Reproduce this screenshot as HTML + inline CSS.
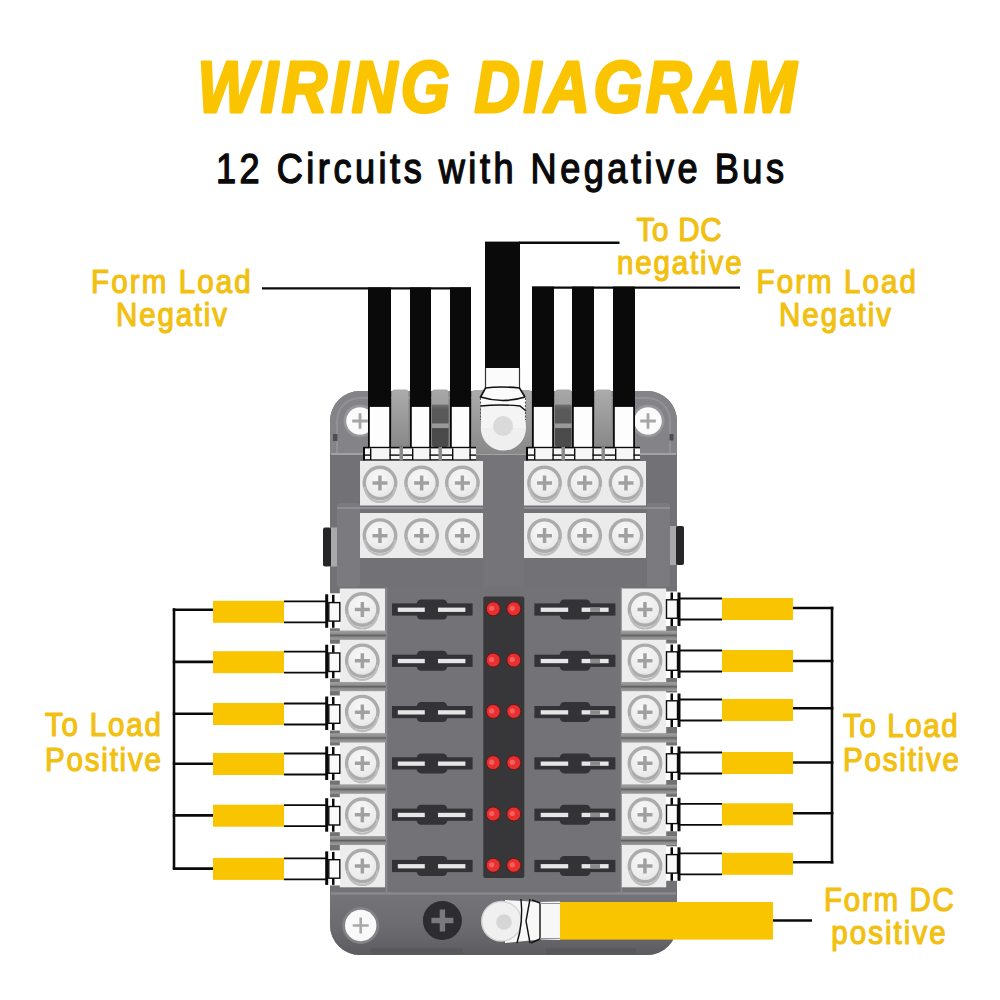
<!DOCTYPE html><html><head><meta charset="utf-8"><style>html,body{margin:0;padding:0;background:#fff;width:1000px;height:1000px;overflow:hidden}svg{display:block}text{font-family:"Liberation Sans",sans-serif}</style></head><body>
<svg width="1000" height="1000" viewBox="0 0 1000 1000">
<defs>
<radialGradient id="scr" cx="0.45" cy="0.35" r="0.7"><stop offset="0" stop-color="#f8f8f8"/><stop offset="0.7" stop-color="#ececec"/><stop offset="1" stop-color="#dedede"/></radialGradient>
<linearGradient id="colL" x1="0" y1="0" x2="0" y2="1"><stop offset="0" stop-color="#acacac"/><stop offset="0.5" stop-color="#9a9a9a"/><stop offset="1" stop-color="#888888"/></linearGradient>
<linearGradient id="colD" x1="0" y1="0" x2="0" y2="1"><stop offset="0" stop-color="#a8a8a8"/><stop offset="0.25" stop-color="#a0a0a0"/><stop offset="0.28" stop-color="#6a6a6a"/><stop offset="0.35" stop-color="#5a5a5a"/><stop offset="0.58" stop-color="#585858"/><stop offset="0.6" stop-color="#9a9a9a"/><stop offset="0.66" stop-color="#9a9a9a"/><stop offset="0.68" stop-color="#4a4a4a"/><stop offset="1" stop-color="#4c4c4c"/></linearGradient>
<linearGradient id="band" x1="0" y1="0" x2="0" y2="1"><stop offset="0" stop-color="#a2a2a2"/><stop offset="0.35" stop-color="#8c8c8c"/><stop offset="0.5" stop-color="#5f5f5f"/><stop offset="0.7" stop-color="#8a8a8a"/><stop offset="1" stop-color="#9c9c9c"/></linearGradient>
<linearGradient id="bot" x1="0" y1="0" x2="0" y2="1"><stop offset="0" stop-color="#747377"/><stop offset="0.55" stop-color="#6c6b6f"/><stop offset="1" stop-color="#5c5b5f"/></linearGradient>
</defs>
<rect x="0.0" y="0.0" width="1000.0" height="1000.0" fill="#ffffff" />
<text transform="translate(197.6,111.5) scale(0.87,1)" x="0" y="0" font-size="72.2" font-weight="bold" font-style="italic" fill="#FBC400" stroke="#FBC400" stroke-width="3.0" stroke-linejoin="round" textLength="688.3" lengthAdjust="spacing">WIRING DIAGRAM</text>
<text transform="translate(216.0,182.5) scale(0.86,1)" x="0" y="0" font-size="42" font-weight="normal" font-style="normal" fill="#0a0a0a" stroke="#0a0a0a" stroke-width="1.4" stroke-linejoin="round" textLength="660.5" lengthAdjust="spacing">12 Circuits with Negative Bus</text>
<text transform="translate(91.1,293.2) scale(0.9,1)" x="0" y="0" font-size="32.8" font-weight="normal" font-style="normal" fill="#F2C010" stroke="#F2C010" stroke-width="1.25" stroke-linejoin="round" textLength="177.4" lengthAdjust="spacing">Form Load</text>
<text transform="translate(116.1,326.2) scale(0.9,1)" x="0" y="0" font-size="32.8" font-weight="normal" font-style="normal" fill="#F2C010" stroke="#F2C010" stroke-width="1.25" stroke-linejoin="round" textLength="123.2" lengthAdjust="spacing">Negativ</text>
<text transform="translate(636.5,240.8) scale(0.9,1)" x="0" y="0" font-size="32.8" font-weight="normal" font-style="normal" fill="#F2C010" stroke="#F2C010" stroke-width="1.25" stroke-linejoin="round" textLength="94.5" lengthAdjust="spacing">To DC</text>
<text transform="translate(617.0,274.2) scale(0.9,1)" x="0" y="0" font-size="32.8" font-weight="normal" font-style="normal" fill="#F2C010" stroke="#F2C010" stroke-width="1.25" stroke-linejoin="round" textLength="138.4" lengthAdjust="spacing">negative</text>
<text transform="translate(756.6,293.2) scale(0.9,1)" x="0" y="0" font-size="32.8" font-weight="normal" font-style="normal" fill="#F2C010" stroke="#F2C010" stroke-width="1.25" stroke-linejoin="round" textLength="176.9" lengthAdjust="spacing">Form Load</text>
<text transform="translate(779.1,326.2) scale(0.9,1)" x="0" y="0" font-size="32.8" font-weight="normal" font-style="normal" fill="#F2C010" stroke="#F2C010" stroke-width="1.25" stroke-linejoin="round" textLength="124.3" lengthAdjust="spacing">Negativ</text>
<text transform="translate(45.0,736.4) scale(0.9,1)" x="0" y="0" font-size="32.8" font-weight="normal" font-style="normal" fill="#F2C010" stroke="#F2C010" stroke-width="1.25" stroke-linejoin="round" textLength="128.7" lengthAdjust="spacing">To Load</text>
<text transform="translate(45.1,771.1) scale(0.9,1)" x="0" y="0" font-size="32.8" font-weight="normal" font-style="normal" fill="#F2C010" stroke="#F2C010" stroke-width="1.25" stroke-linejoin="round" textLength="128.7" lengthAdjust="spacing">Positive</text>
<text transform="translate(843.1,736.8) scale(0.9,1)" x="0" y="0" font-size="32.8" font-weight="normal" font-style="normal" fill="#F2C010" stroke="#F2C010" stroke-width="1.25" stroke-linejoin="round" textLength="127.4" lengthAdjust="spacing">To Load</text>
<text transform="translate(843.1,771.0) scale(0.9,1)" x="0" y="0" font-size="32.8" font-weight="normal" font-style="normal" fill="#F2C010" stroke="#F2C010" stroke-width="1.25" stroke-linejoin="round" textLength="128.7" lengthAdjust="spacing">Positive</text>
<text transform="translate(824.1,910.8) scale(0.9,1)" x="0" y="0" font-size="32.8" font-weight="normal" font-style="normal" fill="#F2C010" stroke="#F2C010" stroke-width="1.25" stroke-linejoin="round" textLength="144.2" lengthAdjust="spacing">Form DC</text>
<text transform="translate(831.3,943.8) scale(0.9,1)" x="0" y="0" font-size="32.8" font-weight="normal" font-style="normal" fill="#F2C010" stroke="#F2C010" stroke-width="1.25" stroke-linejoin="round" textLength="127.0" lengthAdjust="spacing">positive</text>
<rect x="330" y="391" width="347" height="564" rx="30" ry="30" fill="#727175"/>
<path d="M330 454 V421 A30 30 0 0 1 360 391 H647 A30 30 0 0 1 677 421 V454 Z" fill="#848387"/>
<path d="M337 454 V421 A23 23 0 0 1 360 398 H647 A23 23 0 0 1 670 421 V454" fill="none" stroke="#929195" stroke-width="2"/>
<rect x="337" y="503" width="23" height="84" rx="3" fill="#7b7a7e"/>
<rect x="647" y="503" width="23" height="84" rx="3" fill="#7b7a7e"/>
<line x1="331.0" y1="454.0" x2="676.0" y2="454.0" stroke="#a2a2a2" stroke-width="2.2"/>
<line x1="337.0" y1="508.0" x2="670.0" y2="508.0" stroke="#8f8e92" stroke-width="2"/>
<rect x="386.0" y="587.0" width="236.0" height="306.0" fill="#737276" />
<line x1="386.5" y1="587.0" x2="386.5" y2="893.0" stroke="#8a898c" stroke-width="1.5"/>
<line x1="621.5" y1="587.0" x2="621.5" y2="893.0" stroke="#8a898c" stroke-width="1.5"/>
<line x1="331.0" y1="893.5" x2="676.0" y2="893.5" stroke="#8a898d" stroke-width="2.4"/>
<path d="M330 895 H677 V925 A30 30 0 0 1 647 955 H360 A30 30 0 0 1 330 925 Z" fill="url(#bot)"/>
<rect x="371.0" y="948.5" width="92.0" height="5.0" fill="#58575b" />
<rect x="546.0" y="948.5" width="90.0" height="5.0" fill="#58575b" />
<rect x="392" y="389.5" width="16.5" height="57.5" rx="3" fill="url(#colL)"/>
<rect x="432" y="389.5" width="16.5" height="57.5" rx="3" fill="url(#colD)"/>
<rect x="555" y="389.5" width="16.5" height="57.5" rx="3" fill="url(#colD)"/>
<rect x="595" y="389.5" width="16.5" height="57.5" rx="3" fill="url(#colL)"/>
<rect x="472" y="390" width="59.5" height="64" rx="3" fill="url(#colL)"/>
<rect x="483.0" y="455.0" width="41.0" height="132.0" fill="#757478" />
<rect x="333.0" y="434.0" width="4.5" height="7.0" fill="#4e4d51" />
<rect x="669.5" y="434.0" width="4.0" height="6.5" fill="#4e4d51" />
<circle cx="360.0" cy="421.0" r="16.5" fill="#979699" />
<circle cx="360.0" cy="421.0" r="13.8" fill="#fbfbfb" />
<path d="M352.2 419.6h15.6v2.8h-15.6zM358.6 413.2h2.8v15.6h-2.8z" fill="#a6a6a6"/>
<circle cx="648.0" cy="421.0" r="16.5" fill="#979699" />
<circle cx="648.0" cy="421.0" r="13.8" fill="#fbfbfb" />
<path d="M640.2 419.6h15.6v2.8h-15.6zM646.6 413.2h2.8v15.6h-2.8z" fill="#a6a6a6"/>
<rect x="323" y="527.5" width="8" height="39" rx="2" fill="#262628"/>
<rect x="331.0" y="527.5" width="6.0" height="39.0" fill="#a9a9ab" />
<rect x="676" y="526" width="8" height="39" rx="2" fill="#262628"/>
<rect x="670.0" y="526.0" width="6.0" height="39.0" fill="#a9a9ab" />
<rect x="360.0" y="461.0" width="123.0" height="44.5" fill="#ebebeb" />
<circle cx="380.0" cy="483.0" r="15.7" fill="url(#scr)" stroke="#ababab" stroke-width="3.4"/>
<path d="M365.0 487.0 A15.0 15.0 0 0 0 395.0 487.0" fill="none" stroke="#bdbdbd" stroke-width="2.2"/>
<path d="M372.5 481.2h15.0v3.5h-15.0zM378.2 475.5h3.5v15.0h-3.5z" fill="#a0a0a0"/>
<circle cx="421.6" cy="483.0" r="15.7" fill="url(#scr)" stroke="#ababab" stroke-width="3.4"/>
<path d="M406.6 487.0 A15.0 15.0 0 0 0 436.6 487.0" fill="none" stroke="#bdbdbd" stroke-width="2.2"/>
<path d="M414.1 481.2h15.0v3.5h-15.0zM419.9 475.5h3.5v15.0h-3.5z" fill="#a0a0a0"/>
<circle cx="462.4" cy="483.0" r="15.7" fill="url(#scr)" stroke="#ababab" stroke-width="3.4"/>
<path d="M447.4 487.0 A15.0 15.0 0 0 0 477.4 487.0" fill="none" stroke="#bdbdbd" stroke-width="2.2"/>
<path d="M454.9 481.2h15.0v3.5h-15.0zM460.6 475.5h3.5v15.0h-3.5z" fill="#a0a0a0"/>
<rect x="360.0" y="513.0" width="123.0" height="45.0" fill="#ebebeb" />
<circle cx="380.0" cy="535.6" r="15.7" fill="url(#scr)" stroke="#ababab" stroke-width="3.4"/>
<path d="M365.0 539.6 A15.0 15.0 0 0 0 395.0 539.6" fill="none" stroke="#bdbdbd" stroke-width="2.2"/>
<path d="M372.5 533.9h15.0v3.5h-15.0zM378.2 528.1h3.5v15.0h-3.5z" fill="#a0a0a0"/>
<circle cx="421.6" cy="535.6" r="15.7" fill="url(#scr)" stroke="#ababab" stroke-width="3.4"/>
<path d="M406.6 539.6 A15.0 15.0 0 0 0 436.6 539.6" fill="none" stroke="#bdbdbd" stroke-width="2.2"/>
<path d="M414.1 533.9h15.0v3.5h-15.0zM419.9 528.1h3.5v15.0h-3.5z" fill="#a0a0a0"/>
<circle cx="462.4" cy="535.6" r="15.7" fill="url(#scr)" stroke="#ababab" stroke-width="3.4"/>
<path d="M447.4 539.6 A15.0 15.0 0 0 0 477.4 539.6" fill="none" stroke="#bdbdbd" stroke-width="2.2"/>
<path d="M454.9 533.9h15.0v3.5h-15.0zM460.6 528.1h3.5v15.0h-3.5z" fill="#a0a0a0"/>
<rect x="524.0" y="461.0" width="122.0" height="44.5" fill="#ebebeb" />
<circle cx="544.5" cy="483.0" r="15.7" fill="url(#scr)" stroke="#ababab" stroke-width="3.4"/>
<path d="M529.5 487.0 A15.0 15.0 0 0 0 559.5 487.0" fill="none" stroke="#bdbdbd" stroke-width="2.2"/>
<path d="M537.0 481.2h15.0v3.5h-15.0zM542.8 475.5h3.5v15.0h-3.5z" fill="#a0a0a0"/>
<circle cx="584.7" cy="483.0" r="15.7" fill="url(#scr)" stroke="#ababab" stroke-width="3.4"/>
<path d="M569.7 487.0 A15.0 15.0 0 0 0 599.7 487.0" fill="none" stroke="#bdbdbd" stroke-width="2.2"/>
<path d="M577.2 481.2h15.0v3.5h-15.0zM583.0 475.5h3.5v15.0h-3.5z" fill="#a0a0a0"/>
<circle cx="626.0" cy="483.0" r="15.7" fill="url(#scr)" stroke="#ababab" stroke-width="3.4"/>
<path d="M611.0 487.0 A15.0 15.0 0 0 0 641.0 487.0" fill="none" stroke="#bdbdbd" stroke-width="2.2"/>
<path d="M618.5 481.2h15.0v3.5h-15.0zM624.2 475.5h3.5v15.0h-3.5z" fill="#a0a0a0"/>
<rect x="524.0" y="513.0" width="122.0" height="45.0" fill="#ebebeb" />
<circle cx="544.5" cy="535.6" r="15.7" fill="url(#scr)" stroke="#ababab" stroke-width="3.4"/>
<path d="M529.5 539.6 A15.0 15.0 0 0 0 559.5 539.6" fill="none" stroke="#bdbdbd" stroke-width="2.2"/>
<path d="M537.0 533.9h15.0v3.5h-15.0zM542.8 528.1h3.5v15.0h-3.5z" fill="#a0a0a0"/>
<circle cx="584.7" cy="535.6" r="15.7" fill="url(#scr)" stroke="#ababab" stroke-width="3.4"/>
<path d="M569.7 539.6 A15.0 15.0 0 0 0 599.7 539.6" fill="none" stroke="#bdbdbd" stroke-width="2.2"/>
<path d="M577.2 533.9h15.0v3.5h-15.0zM583.0 528.1h3.5v15.0h-3.5z" fill="#a0a0a0"/>
<circle cx="626.0" cy="535.6" r="15.7" fill="url(#scr)" stroke="#ababab" stroke-width="3.4"/>
<path d="M611.0 539.6 A15.0 15.0 0 0 0 641.0 539.6" fill="none" stroke="#bdbdbd" stroke-width="2.2"/>
<path d="M618.5 533.9h15.0v3.5h-15.0zM624.2 528.1h3.5v15.0h-3.5z" fill="#a0a0a0"/>
<rect x="368.0" y="287.4" width="23.0" height="118.6" fill="#0a0a0a" />
<rect x="368.9" y="406.0" width="21.2" height="42.0" fill="#fdfdfd" stroke="#0a0a0a" stroke-width="1.8"/>
<rect x="410.0" y="287.4" width="21.0" height="118.6" fill="#0a0a0a" />
<rect x="410.9" y="406.0" width="19.2" height="42.0" fill="#fdfdfd" stroke="#0a0a0a" stroke-width="1.8"/>
<rect x="450.0" y="287.4" width="21.0" height="118.6" fill="#0a0a0a" />
<rect x="450.9" y="406.0" width="19.2" height="42.0" fill="#fdfdfd" stroke="#0a0a0a" stroke-width="1.8"/>
<rect x="532.0" y="286.6" width="22.0" height="119.4" fill="#0a0a0a" />
<rect x="532.9" y="406.0" width="20.2" height="42.0" fill="#fdfdfd" stroke="#0a0a0a" stroke-width="1.8"/>
<rect x="572.0" y="286.6" width="22.0" height="119.4" fill="#0a0a0a" />
<rect x="572.9" y="406.0" width="20.2" height="42.0" fill="#fdfdfd" stroke="#0a0a0a" stroke-width="1.8"/>
<rect x="613.0" y="286.6" width="22.0" height="119.4" fill="#0a0a0a" />
<rect x="613.9" y="406.0" width="20.2" height="42.0" fill="#fdfdfd" stroke="#0a0a0a" stroke-width="1.8"/>
<rect x="364.0" y="447.0" width="112.0" height="13.5" fill="#f7f7f7" />
<rect x="364.0" y="446.8" width="112.0" height="1.6" fill="#0a0a0a" />
<rect x="364.0" y="454.4" width="112.0" height="1.4" fill="#0a0a0a" />
<rect x="364.0" y="459.2" width="112.0" height="1.3" fill="#0a0a0a" />
<rect x="371.0" y="448.4" width="18.5" height="10.8" fill="#f7f7f7" />
<rect x="370.0" y="448.4" width="1.4" height="11.6" fill="#0a0a0a" />
<rect x="389.4" y="448.4" width="1.4" height="11.6" fill="#0a0a0a" />
<rect x="413.0" y="448.4" width="16.5" height="10.8" fill="#f7f7f7" />
<rect x="412.0" y="448.4" width="1.4" height="11.6" fill="#0a0a0a" />
<rect x="429.4" y="448.4" width="1.4" height="11.6" fill="#0a0a0a" />
<rect x="453.0" y="448.4" width="16.5" height="10.8" fill="#f7f7f7" />
<rect x="452.0" y="448.4" width="1.4" height="11.6" fill="#0a0a0a" />
<rect x="469.4" y="448.4" width="1.4" height="11.6" fill="#0a0a0a" />
<rect x="399.5" y="446.8" width="3.5" height="13.7" fill="#8b8b8b" />
<rect x="438.5" y="446.8" width="3.5" height="13.7" fill="#8b8b8b" />
<rect x="363.0" y="447.0" width="2.0" height="13.5" fill="#0a0a0a" />
<rect x="527.0" y="447.0" width="113.0" height="13.5" fill="#f7f7f7" />
<rect x="527.0" y="446.8" width="113.0" height="1.6" fill="#0a0a0a" />
<rect x="527.0" y="454.4" width="113.0" height="1.4" fill="#0a0a0a" />
<rect x="527.0" y="459.2" width="113.0" height="1.3" fill="#0a0a0a" />
<rect x="535.0" y="448.4" width="17.5" height="10.8" fill="#f7f7f7" />
<rect x="534.0" y="448.4" width="1.4" height="11.6" fill="#0a0a0a" />
<rect x="552.4" y="448.4" width="1.4" height="11.6" fill="#0a0a0a" />
<rect x="575.0" y="448.4" width="17.5" height="10.8" fill="#f7f7f7" />
<rect x="574.0" y="448.4" width="1.4" height="11.6" fill="#0a0a0a" />
<rect x="592.4" y="448.4" width="1.4" height="11.6" fill="#0a0a0a" />
<rect x="616.0" y="448.4" width="17.5" height="10.8" fill="#f7f7f7" />
<rect x="615.0" y="448.4" width="1.4" height="11.6" fill="#0a0a0a" />
<rect x="633.4" y="448.4" width="1.4" height="11.6" fill="#0a0a0a" />
<rect x="561.5" y="446.8" width="3.5" height="13.7" fill="#8b8b8b" />
<rect x="601.5" y="446.8" width="3.5" height="13.7" fill="#8b8b8b" />
<rect x="526.0" y="447.0" width="2.0" height="13.5" fill="#0a0a0a" />
<rect x="485.0" y="241.6" width="35.0" height="126.4" fill="#0a0a0a" />
<circle cx="503.4" cy="428.0" r="22.6" fill="#efefef" />
<rect x="481.0" y="398.0" width="44.5" height="30.0" fill="#f4f4f4" />
<circle cx="503.0" cy="426.0" r="10.0" fill="#dadada" />
<path d="M486 368 L519.5 368 L520 388 L526 400 L525 405 L481 406 L480 400 L485.5 388 Z" fill="#fbfbfb"/>
<path d="M485.5 368 V388 M519.5 368 V388" stroke="#333" stroke-width="1.2" fill="none"/>
<path d="M485.5 388 Q500 386 519.5 388 L525 397 M485.5 388 L480.5 397 Q503 404 525 397" stroke="#111" stroke-width="1.6" fill="none"/>
<path d="M480.5 406 Q500 404 520 406 L526 411" stroke="#111" stroke-width="1.4" fill="none"/>
<path d="M480.5 398 V420 M525.5 398 V420" stroke="#555" stroke-width="1" fill="none" stroke-dasharray="2 1.5"/>
<line x1="262.0" y1="288.4" x2="471.0" y2="288.4" stroke="#0a0a0a" stroke-width="2.4"/>
<line x1="519.0" y1="242.8" x2="619.5" y2="242.8" stroke="#0a0a0a" stroke-width="2.5"/>
<line x1="532.0" y1="287.6" x2="740.0" y2="287.6" stroke="#0a0a0a" stroke-width="2.4"/>
<rect x="339.8" y="588.5" width="45.3" height="42.3" fill="#ededed" />
<circle cx="362.3" cy="609.5" r="15.7" fill="url(#scr)" stroke="#ababab" stroke-width="3.4"/>
<path d="M347.3 613.5 A15.0 15.0 0 0 0 377.3 613.5" fill="none" stroke="#bdbdbd" stroke-width="2.2"/>
<path d="M354.8 607.8h15.0v3.5h-15.0zM360.6 602.0h3.5v15.0h-3.5z" fill="#a0a0a0"/>
<rect x="621.8" y="588.5" width="44.4" height="42.3" fill="#ededed" />
<circle cx="645.0" cy="609.5" r="15.7" fill="url(#scr)" stroke="#ababab" stroke-width="3.4"/>
<path d="M630.0 613.5 A15.0 15.0 0 0 0 660.0 613.5" fill="none" stroke="#bdbdbd" stroke-width="2.2"/>
<path d="M637.5 607.8h15.0v3.5h-15.0zM643.2 602.0h3.5v15.0h-3.5z" fill="#a0a0a0"/>
<rect x="330.0" y="630.8" width="56.0" height="9.0" fill="url(#band)" />
<rect x="621.0" y="630.8" width="56.0" height="9.0" fill="url(#band)" />
<rect x="392.0" y="603.4" width="80.6" height="12.2" fill="#333236" />
<rect x="416.7" y="599.5" width="30.6" height="20" rx="4.5" fill="#333236"/>
<rect x="397.8" y="607.6" width="27.0" height="4.3" fill="#e6e6e6" />
<rect x="438.0" y="607.6" width="27.4" height="4.3" fill="#e6e6e6" />
<rect x="534.4" y="603.4" width="81.0" height="12.2" fill="#333236" />
<rect x="559.7" y="599.5" width="30.8" height="20" rx="4.5" fill="#333236"/>
<rect x="540.7" y="607.6" width="27.5" height="4.3" fill="#e6e6e6" />
<rect x="581.6" y="607.6" width="27.0" height="4.3" fill="#e6e6e6" />
<rect x="590.2" y="607.6" width="9.8" height="4.3" fill="#8a8a8a" />
<rect x="339.8" y="639.8" width="45.3" height="42.3" fill="#ededed" />
<circle cx="362.3" cy="660.8" r="15.7" fill="url(#scr)" stroke="#ababab" stroke-width="3.4"/>
<path d="M347.3 664.8 A15.0 15.0 0 0 0 377.3 664.8" fill="none" stroke="#bdbdbd" stroke-width="2.2"/>
<path d="M354.8 659.0h15.0v3.5h-15.0zM360.6 653.3h3.5v15.0h-3.5z" fill="#a0a0a0"/>
<rect x="621.8" y="639.8" width="44.4" height="42.3" fill="#ededed" />
<circle cx="645.0" cy="660.8" r="15.7" fill="url(#scr)" stroke="#ababab" stroke-width="3.4"/>
<path d="M630.0 664.8 A15.0 15.0 0 0 0 660.0 664.8" fill="none" stroke="#bdbdbd" stroke-width="2.2"/>
<path d="M637.5 659.0h15.0v3.5h-15.0zM643.2 653.3h3.5v15.0h-3.5z" fill="#a0a0a0"/>
<rect x="330.0" y="682.1" width="56.0" height="9.0" fill="url(#band)" />
<rect x="621.0" y="682.1" width="56.0" height="9.0" fill="url(#band)" />
<rect x="392.0" y="654.7" width="80.6" height="12.2" fill="#333236" />
<rect x="416.7" y="650.8" width="30.6" height="20" rx="4.5" fill="#333236"/>
<rect x="397.8" y="658.9" width="27.0" height="4.3" fill="#e6e6e6" />
<rect x="438.0" y="658.9" width="27.4" height="4.3" fill="#e6e6e6" />
<rect x="534.4" y="654.7" width="81.0" height="12.2" fill="#333236" />
<rect x="559.7" y="650.8" width="30.8" height="20" rx="4.5" fill="#333236"/>
<rect x="540.7" y="658.9" width="27.5" height="4.3" fill="#e6e6e6" />
<rect x="581.6" y="658.9" width="27.0" height="4.3" fill="#e6e6e6" />
<rect x="590.2" y="658.9" width="9.8" height="4.3" fill="#8a8a8a" />
<rect x="339.8" y="691.1" width="45.3" height="42.3" fill="#ededed" />
<circle cx="362.3" cy="712.1" r="15.7" fill="url(#scr)" stroke="#ababab" stroke-width="3.4"/>
<path d="M347.3 716.1 A15.0 15.0 0 0 0 377.3 716.1" fill="none" stroke="#bdbdbd" stroke-width="2.2"/>
<path d="M354.8 710.4h15.0v3.5h-15.0zM360.6 704.6h3.5v15.0h-3.5z" fill="#a0a0a0"/>
<rect x="621.8" y="691.1" width="44.4" height="42.3" fill="#ededed" />
<circle cx="645.0" cy="712.1" r="15.7" fill="url(#scr)" stroke="#ababab" stroke-width="3.4"/>
<path d="M630.0 716.1 A15.0 15.0 0 0 0 660.0 716.1" fill="none" stroke="#bdbdbd" stroke-width="2.2"/>
<path d="M637.5 710.4h15.0v3.5h-15.0zM643.2 704.6h3.5v15.0h-3.5z" fill="#a0a0a0"/>
<rect x="330.0" y="733.4" width="56.0" height="9.0" fill="url(#band)" />
<rect x="621.0" y="733.4" width="56.0" height="9.0" fill="url(#band)" />
<rect x="392.0" y="706.0" width="80.6" height="12.2" fill="#333236" />
<rect x="416.7" y="702.1" width="30.6" height="20" rx="4.5" fill="#333236"/>
<rect x="397.8" y="710.2" width="27.0" height="4.3" fill="#e6e6e6" />
<rect x="438.0" y="710.2" width="27.4" height="4.3" fill="#e6e6e6" />
<rect x="534.4" y="706.0" width="81.0" height="12.2" fill="#333236" />
<rect x="559.7" y="702.1" width="30.8" height="20" rx="4.5" fill="#333236"/>
<rect x="540.7" y="710.2" width="27.5" height="4.3" fill="#e6e6e6" />
<rect x="581.6" y="710.2" width="27.0" height="4.3" fill="#e6e6e6" />
<rect x="590.2" y="710.2" width="9.8" height="4.3" fill="#8a8a8a" />
<rect x="339.8" y="742.4" width="45.3" height="42.3" fill="#ededed" />
<circle cx="362.3" cy="763.4" r="15.7" fill="url(#scr)" stroke="#ababab" stroke-width="3.4"/>
<path d="M347.3 767.4 A15.0 15.0 0 0 0 377.3 767.4" fill="none" stroke="#bdbdbd" stroke-width="2.2"/>
<path d="M354.8 761.6h15.0v3.5h-15.0zM360.6 755.9h3.5v15.0h-3.5z" fill="#a0a0a0"/>
<rect x="621.8" y="742.4" width="44.4" height="42.3" fill="#ededed" />
<circle cx="645.0" cy="763.4" r="15.7" fill="url(#scr)" stroke="#ababab" stroke-width="3.4"/>
<path d="M630.0 767.4 A15.0 15.0 0 0 0 660.0 767.4" fill="none" stroke="#bdbdbd" stroke-width="2.2"/>
<path d="M637.5 761.6h15.0v3.5h-15.0zM643.2 755.9h3.5v15.0h-3.5z" fill="#a0a0a0"/>
<rect x="330.0" y="784.7" width="56.0" height="9.0" fill="url(#band)" />
<rect x="621.0" y="784.7" width="56.0" height="9.0" fill="url(#band)" />
<rect x="392.0" y="757.3" width="80.6" height="12.2" fill="#333236" />
<rect x="416.7" y="753.4" width="30.6" height="20" rx="4.5" fill="#333236"/>
<rect x="397.8" y="761.5" width="27.0" height="4.3" fill="#e6e6e6" />
<rect x="438.0" y="761.5" width="27.4" height="4.3" fill="#e6e6e6" />
<rect x="534.4" y="757.3" width="81.0" height="12.2" fill="#333236" />
<rect x="559.7" y="753.4" width="30.8" height="20" rx="4.5" fill="#333236"/>
<rect x="540.7" y="761.5" width="27.5" height="4.3" fill="#e6e6e6" />
<rect x="581.6" y="761.5" width="27.0" height="4.3" fill="#e6e6e6" />
<rect x="590.2" y="761.5" width="9.8" height="4.3" fill="#8a8a8a" />
<rect x="339.8" y="793.7" width="45.3" height="42.3" fill="#ededed" />
<circle cx="362.3" cy="814.7" r="15.7" fill="url(#scr)" stroke="#ababab" stroke-width="3.4"/>
<path d="M347.3 818.7 A15.0 15.0 0 0 0 377.3 818.7" fill="none" stroke="#bdbdbd" stroke-width="2.2"/>
<path d="M354.8 813.0h15.0v3.5h-15.0zM360.6 807.2h3.5v15.0h-3.5z" fill="#a0a0a0"/>
<rect x="621.8" y="793.7" width="44.4" height="42.3" fill="#ededed" />
<circle cx="645.0" cy="814.7" r="15.7" fill="url(#scr)" stroke="#ababab" stroke-width="3.4"/>
<path d="M630.0 818.7 A15.0 15.0 0 0 0 660.0 818.7" fill="none" stroke="#bdbdbd" stroke-width="2.2"/>
<path d="M637.5 813.0h15.0v3.5h-15.0zM643.2 807.2h3.5v15.0h-3.5z" fill="#a0a0a0"/>
<rect x="330.0" y="836.0" width="56.0" height="9.0" fill="url(#band)" />
<rect x="621.0" y="836.0" width="56.0" height="9.0" fill="url(#band)" />
<rect x="392.0" y="808.6" width="80.6" height="12.2" fill="#333236" />
<rect x="416.7" y="804.7" width="30.6" height="20" rx="4.5" fill="#333236"/>
<rect x="397.8" y="812.8" width="27.0" height="4.3" fill="#e6e6e6" />
<rect x="438.0" y="812.8" width="27.4" height="4.3" fill="#e6e6e6" />
<rect x="534.4" y="808.6" width="81.0" height="12.2" fill="#333236" />
<rect x="559.7" y="804.7" width="30.8" height="20" rx="4.5" fill="#333236"/>
<rect x="540.7" y="812.8" width="27.5" height="4.3" fill="#e6e6e6" />
<rect x="581.6" y="812.8" width="27.0" height="4.3" fill="#e6e6e6" />
<rect x="590.2" y="812.8" width="9.8" height="4.3" fill="#8a8a8a" />
<rect x="339.8" y="845.0" width="45.3" height="42.3" fill="#ededed" />
<circle cx="362.3" cy="866.0" r="15.7" fill="url(#scr)" stroke="#ababab" stroke-width="3.4"/>
<path d="M347.3 870.0 A15.0 15.0 0 0 0 377.3 870.0" fill="none" stroke="#bdbdbd" stroke-width="2.2"/>
<path d="M354.8 864.2h15.0v3.5h-15.0zM360.6 858.5h3.5v15.0h-3.5z" fill="#a0a0a0"/>
<rect x="621.8" y="845.0" width="44.4" height="42.3" fill="#ededed" />
<circle cx="645.0" cy="866.0" r="15.7" fill="url(#scr)" stroke="#ababab" stroke-width="3.4"/>
<path d="M630.0 870.0 A15.0 15.0 0 0 0 660.0 870.0" fill="none" stroke="#bdbdbd" stroke-width="2.2"/>
<path d="M637.5 864.2h15.0v3.5h-15.0zM643.2 858.5h3.5v15.0h-3.5z" fill="#a0a0a0"/>
<rect x="392.0" y="859.9" width="80.6" height="12.2" fill="#333236" />
<rect x="416.7" y="856.0" width="30.6" height="20" rx="4.5" fill="#333236"/>
<rect x="397.8" y="864.1" width="27.0" height="4.3" fill="#e6e6e6" />
<rect x="438.0" y="864.1" width="27.4" height="4.3" fill="#e6e6e6" />
<rect x="534.4" y="859.9" width="81.0" height="12.2" fill="#333236" />
<rect x="559.7" y="856.0" width="30.8" height="20" rx="4.5" fill="#333236"/>
<rect x="540.7" y="864.1" width="27.5" height="4.3" fill="#e6e6e6" />
<rect x="581.6" y="864.1" width="27.0" height="4.3" fill="#e6e6e6" />
<rect x="590.2" y="864.1" width="9.8" height="4.3" fill="#8a8a8a" />
<rect x="483.3" y="596.4" width="41" height="281.6" rx="2" fill="#373639"/>
<circle cx="493.2" cy="608.8" r="7.0" fill="#e83030" stroke="#6a1515" stroke-width="1"/>
<circle cx="491.7" cy="608.3" r="2.6" fill="#f06060" />
<circle cx="513.8" cy="608.8" r="7.0" fill="#e83030" stroke="#6a1515" stroke-width="1"/>
<circle cx="512.3" cy="608.3" r="2.6" fill="#f06060" />
<circle cx="493.2" cy="660.1" r="7.0" fill="#e83030" stroke="#6a1515" stroke-width="1"/>
<circle cx="491.7" cy="659.6" r="2.6" fill="#f06060" />
<circle cx="513.8" cy="660.1" r="7.0" fill="#e83030" stroke="#6a1515" stroke-width="1"/>
<circle cx="512.3" cy="659.6" r="2.6" fill="#f06060" />
<circle cx="493.2" cy="711.4" r="7.0" fill="#e83030" stroke="#6a1515" stroke-width="1"/>
<circle cx="491.7" cy="710.9" r="2.6" fill="#f06060" />
<circle cx="513.8" cy="711.4" r="7.0" fill="#e83030" stroke="#6a1515" stroke-width="1"/>
<circle cx="512.3" cy="710.9" r="2.6" fill="#f06060" />
<circle cx="493.2" cy="762.7" r="7.0" fill="#e83030" stroke="#6a1515" stroke-width="1"/>
<circle cx="491.7" cy="762.2" r="2.6" fill="#f06060" />
<circle cx="513.8" cy="762.7" r="7.0" fill="#e83030" stroke="#6a1515" stroke-width="1"/>
<circle cx="512.3" cy="762.2" r="2.6" fill="#f06060" />
<circle cx="493.2" cy="814.0" r="7.0" fill="#e83030" stroke="#6a1515" stroke-width="1"/>
<circle cx="491.7" cy="813.5" r="2.6" fill="#f06060" />
<circle cx="513.8" cy="814.0" r="7.0" fill="#e83030" stroke="#6a1515" stroke-width="1"/>
<circle cx="512.3" cy="813.5" r="2.6" fill="#f06060" />
<circle cx="493.2" cy="865.3" r="7.0" fill="#e83030" stroke="#6a1515" stroke-width="1"/>
<circle cx="491.7" cy="864.8" r="2.6" fill="#f06060" />
<circle cx="513.8" cy="865.3" r="7.0" fill="#e83030" stroke="#6a1515" stroke-width="1"/>
<circle cx="512.3" cy="864.8" r="2.6" fill="#f06060" />
<rect x="213.0" y="600.8" width="71.0" height="22.0" fill="#F8C500" />
<line x1="284.0" y1="601.3" x2="327.0" y2="601.3" stroke="#0a0a0a" stroke-width="1.8"/>
<line x1="284.0" y1="622.3" x2="327.0" y2="622.3" stroke="#0a0a0a" stroke-width="1.8"/>
<rect x="328.0" y="593.3" width="12.0" height="35.0" fill="#ffffff" />
<rect x="325.2" y="594.3" width="3.0" height="33.5" fill="#0a0a0a" />
<rect x="328.8" y="602.6" width="11" height="18.5" fill="#fafafa" stroke="#0a0a0a" stroke-width="1.4"/>
<rect x="332.0" y="594.8" width="2.5" height="7.5" fill="#0a0a0a" />
<rect x="332.0" y="621.3" width="2.5" height="6.5" fill="#0a0a0a" />
<line x1="172.8" y1="609.8" x2="213.0" y2="609.8" stroke="#0a0a0a" stroke-width="2.6"/>
<rect x="213.0" y="651.2" width="71.0" height="22.0" fill="#F8C500" />
<line x1="284.0" y1="651.7" x2="327.0" y2="651.7" stroke="#0a0a0a" stroke-width="1.8"/>
<line x1="284.0" y1="672.7" x2="327.0" y2="672.7" stroke="#0a0a0a" stroke-width="1.8"/>
<rect x="328.0" y="643.7" width="12.0" height="35.0" fill="#ffffff" />
<rect x="325.2" y="644.7" width="3.0" height="33.5" fill="#0a0a0a" />
<rect x="328.8" y="653.0" width="11" height="18.5" fill="#fafafa" stroke="#0a0a0a" stroke-width="1.4"/>
<rect x="332.0" y="645.2" width="2.5" height="7.5" fill="#0a0a0a" />
<rect x="332.0" y="671.7" width="2.5" height="6.5" fill="#0a0a0a" />
<line x1="172.8" y1="661.9" x2="213.0" y2="661.9" stroke="#0a0a0a" stroke-width="2.6"/>
<rect x="213.0" y="703.0" width="71.0" height="22.0" fill="#F8C500" />
<line x1="284.0" y1="703.5" x2="327.0" y2="703.5" stroke="#0a0a0a" stroke-width="1.8"/>
<line x1="284.0" y1="724.5" x2="327.0" y2="724.5" stroke="#0a0a0a" stroke-width="1.8"/>
<rect x="328.0" y="695.5" width="12.0" height="35.0" fill="#ffffff" />
<rect x="325.2" y="696.5" width="3.0" height="33.5" fill="#0a0a0a" />
<rect x="328.8" y="704.8" width="11" height="18.5" fill="#fafafa" stroke="#0a0a0a" stroke-width="1.4"/>
<rect x="332.0" y="697.0" width="2.5" height="7.5" fill="#0a0a0a" />
<rect x="332.0" y="723.5" width="2.5" height="6.5" fill="#0a0a0a" />
<line x1="172.8" y1="713.7" x2="213.0" y2="713.7" stroke="#0a0a0a" stroke-width="2.6"/>
<rect x="213.0" y="753.0" width="71.0" height="22.0" fill="#F8C500" />
<line x1="284.0" y1="753.5" x2="327.0" y2="753.5" stroke="#0a0a0a" stroke-width="1.8"/>
<line x1="284.0" y1="774.5" x2="327.0" y2="774.5" stroke="#0a0a0a" stroke-width="1.8"/>
<rect x="328.0" y="745.5" width="12.0" height="35.0" fill="#ffffff" />
<rect x="325.2" y="746.5" width="3.0" height="33.5" fill="#0a0a0a" />
<rect x="328.8" y="754.8" width="11" height="18.5" fill="#fafafa" stroke="#0a0a0a" stroke-width="1.4"/>
<rect x="332.0" y="747.0" width="2.5" height="7.5" fill="#0a0a0a" />
<rect x="332.0" y="773.5" width="2.5" height="6.5" fill="#0a0a0a" />
<line x1="172.8" y1="763.7" x2="213.0" y2="763.7" stroke="#0a0a0a" stroke-width="2.6"/>
<rect x="213.0" y="804.7" width="71.0" height="22.0" fill="#F8C500" />
<line x1="284.0" y1="805.2" x2="327.0" y2="805.2" stroke="#0a0a0a" stroke-width="1.8"/>
<line x1="284.0" y1="826.2" x2="327.0" y2="826.2" stroke="#0a0a0a" stroke-width="1.8"/>
<rect x="328.0" y="797.2" width="12.0" height="35.0" fill="#ffffff" />
<rect x="325.2" y="798.2" width="3.0" height="33.5" fill="#0a0a0a" />
<rect x="328.8" y="806.5" width="11" height="18.5" fill="#fafafa" stroke="#0a0a0a" stroke-width="1.4"/>
<rect x="332.0" y="798.7" width="2.5" height="7.5" fill="#0a0a0a" />
<rect x="332.0" y="825.2" width="2.5" height="6.5" fill="#0a0a0a" />
<line x1="172.8" y1="815.4" x2="213.0" y2="815.4" stroke="#0a0a0a" stroke-width="2.6"/>
<rect x="213.0" y="857.9" width="71.0" height="22.0" fill="#F8C500" />
<line x1="284.0" y1="858.4" x2="327.0" y2="858.4" stroke="#0a0a0a" stroke-width="1.8"/>
<line x1="284.0" y1="879.4" x2="327.0" y2="879.4" stroke="#0a0a0a" stroke-width="1.8"/>
<rect x="328.0" y="850.4" width="12.0" height="35.0" fill="#ffffff" />
<rect x="325.2" y="851.4" width="3.0" height="33.5" fill="#0a0a0a" />
<rect x="328.8" y="859.7" width="11" height="18.5" fill="#fafafa" stroke="#0a0a0a" stroke-width="1.4"/>
<rect x="332.0" y="851.9" width="2.5" height="7.5" fill="#0a0a0a" />
<rect x="332.0" y="878.4" width="2.5" height="6.5" fill="#0a0a0a" />
<line x1="172.8" y1="868.6" x2="213.0" y2="868.6" stroke="#0a0a0a" stroke-width="2.6"/>
<line x1="174.0" y1="608.2" x2="174.0" y2="869.0" stroke="#0a0a0a" stroke-width="2.6"/>
<rect x="722.0" y="598.0" width="71.0" height="22.0" fill="#F8C500" />
<line x1="680.0" y1="598.5" x2="722.0" y2="598.5" stroke="#0a0a0a" stroke-width="1.8"/>
<line x1="680.0" y1="619.5" x2="722.0" y2="619.5" stroke="#0a0a0a" stroke-width="1.8"/>
<rect x="666.0" y="591.5" width="11.5" height="34.5" fill="#ffffff" />
<rect x="677.5" y="592.5" width="3.0" height="33.5" fill="#0a0a0a" />
<rect x="666.5" y="599.8" width="11" height="18.5" fill="#fafafa" stroke="#0a0a0a" stroke-width="1.4"/>
<rect x="670.5" y="592.5" width="2.5" height="7.0" fill="#0a0a0a" />
<rect x="670.5" y="618.5" width="2.5" height="7.5" fill="#0a0a0a" />
<line x1="793.0" y1="608.0" x2="833.4" y2="608.0" stroke="#0a0a0a" stroke-width="2.6"/>
<rect x="722.0" y="650.0" width="71.0" height="22.0" fill="#F8C500" />
<line x1="680.0" y1="650.5" x2="722.0" y2="650.5" stroke="#0a0a0a" stroke-width="1.8"/>
<line x1="680.0" y1="671.5" x2="722.0" y2="671.5" stroke="#0a0a0a" stroke-width="1.8"/>
<rect x="666.0" y="643.5" width="11.5" height="34.5" fill="#ffffff" />
<rect x="677.5" y="644.5" width="3.0" height="33.5" fill="#0a0a0a" />
<rect x="666.5" y="651.8" width="11" height="18.5" fill="#fafafa" stroke="#0a0a0a" stroke-width="1.4"/>
<rect x="670.5" y="644.5" width="2.5" height="7.0" fill="#0a0a0a" />
<rect x="670.5" y="670.5" width="2.5" height="7.5" fill="#0a0a0a" />
<line x1="793.0" y1="661.0" x2="833.4" y2="661.0" stroke="#0a0a0a" stroke-width="2.6"/>
<rect x="722.0" y="699.0" width="71.0" height="22.0" fill="#F8C500" />
<line x1="680.0" y1="699.5" x2="722.0" y2="699.5" stroke="#0a0a0a" stroke-width="1.8"/>
<line x1="680.0" y1="720.5" x2="722.0" y2="720.5" stroke="#0a0a0a" stroke-width="1.8"/>
<rect x="666.0" y="692.5" width="11.5" height="34.5" fill="#ffffff" />
<rect x="677.5" y="693.5" width="3.0" height="33.5" fill="#0a0a0a" />
<rect x="666.5" y="700.8" width="11" height="18.5" fill="#fafafa" stroke="#0a0a0a" stroke-width="1.4"/>
<rect x="670.5" y="693.5" width="2.5" height="7.0" fill="#0a0a0a" />
<rect x="670.5" y="719.5" width="2.5" height="7.5" fill="#0a0a0a" />
<line x1="793.0" y1="708.3" x2="833.4" y2="708.3" stroke="#0a0a0a" stroke-width="2.6"/>
<rect x="722.0" y="752.0" width="71.0" height="22.0" fill="#F8C500" />
<line x1="680.0" y1="752.5" x2="722.0" y2="752.5" stroke="#0a0a0a" stroke-width="1.8"/>
<line x1="680.0" y1="773.5" x2="722.0" y2="773.5" stroke="#0a0a0a" stroke-width="1.8"/>
<rect x="666.0" y="745.5" width="11.5" height="34.5" fill="#ffffff" />
<rect x="677.5" y="746.5" width="3.0" height="33.5" fill="#0a0a0a" />
<rect x="666.5" y="753.8" width="11" height="18.5" fill="#fafafa" stroke="#0a0a0a" stroke-width="1.4"/>
<rect x="670.5" y="746.5" width="2.5" height="7.0" fill="#0a0a0a" />
<rect x="670.5" y="772.5" width="2.5" height="7.5" fill="#0a0a0a" />
<line x1="793.0" y1="762.5" x2="833.4" y2="762.5" stroke="#0a0a0a" stroke-width="2.6"/>
<rect x="722.0" y="803.3" width="71.0" height="22.0" fill="#F8C500" />
<line x1="680.0" y1="803.8" x2="722.0" y2="803.8" stroke="#0a0a0a" stroke-width="1.8"/>
<line x1="680.0" y1="824.8" x2="722.0" y2="824.8" stroke="#0a0a0a" stroke-width="1.8"/>
<rect x="666.0" y="796.8" width="11.5" height="34.5" fill="#ffffff" />
<rect x="677.5" y="797.8" width="3.0" height="33.5" fill="#0a0a0a" />
<rect x="666.5" y="805.1" width="11" height="18.5" fill="#fafafa" stroke="#0a0a0a" stroke-width="1.4"/>
<rect x="670.5" y="797.8" width="2.5" height="7.0" fill="#0a0a0a" />
<rect x="670.5" y="823.8" width="2.5" height="7.5" fill="#0a0a0a" />
<line x1="793.0" y1="813.3" x2="833.4" y2="813.3" stroke="#0a0a0a" stroke-width="2.6"/>
<rect x="722.0" y="852.8" width="71.0" height="22.0" fill="#F8C500" />
<line x1="680.0" y1="853.3" x2="722.0" y2="853.3" stroke="#0a0a0a" stroke-width="1.8"/>
<line x1="680.0" y1="874.3" x2="722.0" y2="874.3" stroke="#0a0a0a" stroke-width="1.8"/>
<rect x="666.0" y="846.3" width="11.5" height="34.5" fill="#ffffff" />
<rect x="677.5" y="847.3" width="3.0" height="33.5" fill="#0a0a0a" />
<rect x="666.5" y="854.6" width="11" height="18.5" fill="#fafafa" stroke="#0a0a0a" stroke-width="1.4"/>
<rect x="670.5" y="847.3" width="2.5" height="7.0" fill="#0a0a0a" />
<rect x="670.5" y="873.3" width="2.5" height="7.5" fill="#0a0a0a" />
<line x1="793.0" y1="862.3" x2="833.4" y2="862.3" stroke="#0a0a0a" stroke-width="2.6"/>
<line x1="832.0" y1="606.8" x2="832.0" y2="863.6" stroke="#0a0a0a" stroke-width="2.6"/>
<circle cx="360.7" cy="925.5" r="18.5" fill="#838286" />
<circle cx="360.7" cy="925.5" r="15.7" fill="#f9f9f9" />
<path d="M352.7 924.2h16.0v2.6h-16.0zM359.4 917.5h2.6v16.0h-2.6z" fill="#a8a8a8"/>
<circle cx="442.4" cy="920.5" r="19.5" fill="#2d2c30" />
<path d="M431.4 917.8h22.0v5.4h-22.0zM439.7 909.5h5.4v22.0h-5.4z" fill="#7a797c"/>
<path d="M505 900 L540 902 L560 901.5 L560 940 L540 939.5 L505 943 Z" fill="#f7f7f7"/>
<circle cx="501.5" cy="921.3" r="19.8" fill="#f0f0f0" stroke="#d4d4d4" stroke-width="1.4"/>
<circle cx="504.0" cy="922.0" r="7.8" fill="#d6d6d6" />
<path d="M521 899 Q523.5 922 517 943 M530 899 L526 921 L530 943 M532 900 L540 903 V939 L531 943" fill="none" stroke="#111" stroke-width="1.4"/>
<path d="M540 903.5 H560 M540 938.5 H560" fill="none" stroke="#888" stroke-width="0.9"/>
<rect x="560.0" y="902.0" width="213.0" height="37.6" fill="#F8C500" />
<line x1="773.0" y1="920.5" x2="812.0" y2="920.5" stroke="#0a0a0a" stroke-width="2.6"/>
</svg></body></html>
